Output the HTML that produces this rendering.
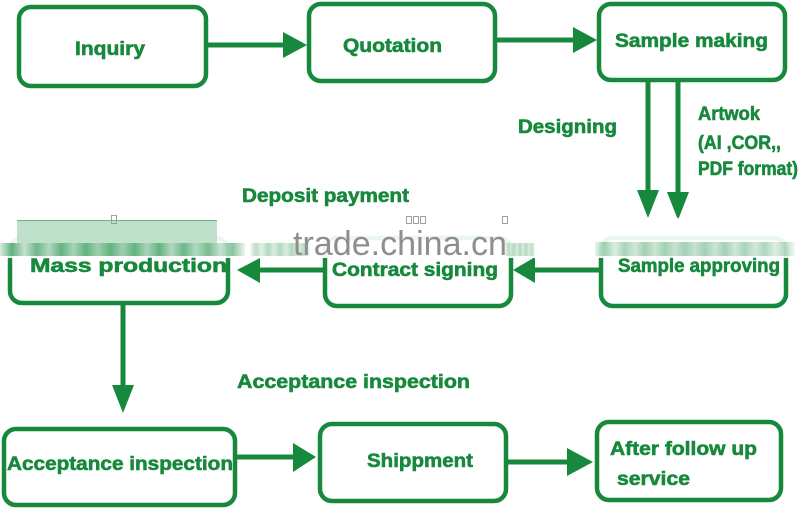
<!DOCTYPE html>
<html>
<head>
<meta charset="utf-8">
<style>
  html, body { margin: 0; padding: 0; background: #ffffff; }
  body { width: 800px; height: 509px; overflow: hidden; }
  svg { display: block; }
  .t { font-family: "Liberation Sans", Arial, sans-serif; font-weight: bold; font-size: 19px; fill: #17893d; stroke: #17893d; stroke-width: 0.6; }
</style>
</head>
<body>
<svg width="800" height="509" viewBox="0 0 800 509" xmlns="http://www.w3.org/2000/svg">
  <defs>
    <linearGradient id="streak" x1="0" y1="0" x2="1" y2="0">
      <stop offset="0" stop-color="#3d9f60" stop-opacity="0.2"/>
      <stop offset="0.05" stop-color="#3d9f60" stop-opacity="0.8"/>
      <stop offset="0.1" stop-color="#3d9f60" stop-opacity="0.3"/>
      <stop offset="0.15" stop-color="#3d9f60" stop-opacity="0.75"/>
      <stop offset="0.2" stop-color="#3d9f60" stop-opacity="0.4"/>
      <stop offset="0.25" stop-color="#3d9f60" stop-opacity="0.8"/>
      <stop offset="0.3" stop-color="#3d9f60" stop-opacity="0.45"/>
      <stop offset="0.35" stop-color="#3d9f60" stop-opacity="0.8"/>
      <stop offset="0.4" stop-color="#3d9f60" stop-opacity="0.5"/>
      <stop offset="0.45" stop-color="#3d9f60" stop-opacity="0.8"/>
      <stop offset="0.5" stop-color="#3d9f60" stop-opacity="0.5"/>
      <stop offset="0.55" stop-color="#3d9f60" stop-opacity="0.8"/>
      <stop offset="0.6" stop-color="#3d9f60" stop-opacity="0.45"/>
      <stop offset="0.65" stop-color="#3d9f60" stop-opacity="0.8"/>
      <stop offset="0.7" stop-color="#3d9f60" stop-opacity="0.4"/>
      <stop offset="0.75" stop-color="#3d9f60" stop-opacity="0.75"/>
      <stop offset="0.8" stop-color="#3d9f60" stop-opacity="0.4"/>
      <stop offset="0.85" stop-color="#3d9f60" stop-opacity="0.7"/>
      <stop offset="0.9" stop-color="#3d9f60" stop-opacity="0.3"/>
      <stop offset="0.95" stop-color="#3d9f60" stop-opacity="0.6"/>
      <stop offset="1" stop-color="#3d9f60" stop-opacity="0.1"/>
    </linearGradient>
    <linearGradient id="streakLight" x1="0" y1="0" x2="1" y2="0">
      <stop offset="0" stop-color="#3d9f60" stop-opacity="0.05"/>
      <stop offset="0.1" stop-color="#3d9f60" stop-opacity="0.35"/>
      <stop offset="0.2" stop-color="#3d9f60" stop-opacity="0.15"/>
      <stop offset="0.3" stop-color="#3d9f60" stop-opacity="0.4"/>
      <stop offset="0.4" stop-color="#3d9f60" stop-opacity="0.2"/>
      <stop offset="0.5" stop-color="#3d9f60" stop-opacity="0.4"/>
      <stop offset="0.6" stop-color="#3d9f60" stop-opacity="0.2"/>
      <stop offset="0.7" stop-color="#3d9f60" stop-opacity="0.4"/>
      <stop offset="0.8" stop-color="#3d9f60" stop-opacity="0.2"/>
      <stop offset="0.9" stop-color="#3d9f60" stop-opacity="0.35"/>
      <stop offset="1" stop-color="#3d9f60" stop-opacity="0.05"/>
    </linearGradient>
  </defs>

  <g fill="none" stroke="#17893d" stroke-width="4.5">
    <!-- top row -->
    <rect x="19" y="7" width="187" height="79" rx="12"/>
    <rect x="309" y="4" width="186" height="77" rx="12"/>
    <rect x="599" y="4" width="186" height="76" rx="12"/>
    <!-- middle row -->
    <rect x="10" y="238" width="218" height="65" rx="12"/>
    <rect x="325" y="238" width="186" height="68" rx="12"/>
    <rect x="601" y="238" width="185" height="68" rx="12"/>
    <!-- bottom row -->
    <rect x="4" y="429" width="231" height="76" rx="12"/>
    <rect x="320" y="424" width="186" height="77" rx="12"/>
    <rect x="597" y="422" width="184" height="78" rx="12"/>
  </g>

  <!-- connectors -->
  <g stroke="#17893d" stroke-width="5" fill="none">
    <line x1="208" y1="45" x2="286" y2="45"/>
    <line x1="497" y1="40" x2="576" y2="40"/>
    <line x1="648" y1="82" x2="648" y2="195"/>
    <line x1="678" y1="82" x2="678" y2="197"/>
    <line x1="599" y1="270" x2="532" y2="270"/>
    <line x1="323" y1="270" x2="257" y2="270"/>
    <line x1="123" y1="305" x2="123" y2="388"/>
    <line x1="237" y1="457" x2="296" y2="457"/>
    <line x1="508" y1="462" x2="570" y2="462"/>
  </g>
  <g fill="#17893d">
    <polygon points="283,32 307,45 283,58"/>
    <polygon points="573,27 597,40 573,53"/>
    <polygon points="637,190 659,190 648,218"/>
    <polygon points="667,192 689,192 678,220"/>
    <polygon points="535,257 513,270 535,283"/>
    <polygon points="260,258 237,270 260,283"/>
    <polygon points="112,385 134,385 123,413"/>
    <polygon points="293,443 316,457 293,472"/>
    <polygon points="567,448 593,462 567,476"/>
  </g>

  <!-- watermark band -->
  <rect x="0" y="218" width="800" height="40" fill="#ffffff" opacity="0.92"/>
  <rect x="17" y="220" width="200" height="23" fill="#bfe1cb"/>
  <line x1="17" y1="220.5" x2="217" y2="220.5" stroke="#6db488" stroke-width="1"/>
  <rect x="0" y="243" width="245" height="13" fill="url(#streak)"/>
  <rect x="250" y="243" width="60" height="13" fill="url(#streakLight)"/>
  <rect x="505" y="243" width="30" height="13" fill="url(#streakLight)"/>
  <rect x="595" y="242" width="200" height="14" fill="url(#streak)" opacity="0.6"/>
  <g fill="none" stroke="#a0a0a0" stroke-width="1">
    <rect x="111.5" y="215.5" width="5" height="8"/>
    <rect x="406.5" y="216.5" width="5" height="7"/>
    <rect x="413.5" y="216.5" width="5" height="7"/>
    <rect x="420.5" y="216.5" width="5" height="7"/>
    <rect x="502.5" y="216.5" width="5" height="7"/>
  </g>
  <text x="293" y="255" font-family="Liberation Sans, Arial, sans-serif" font-size="34" fill="#8e8e8e" textLength="214" lengthAdjust="spacingAndGlyphs">trade.china.cn</text>

  <!-- labels -->
  <text class="t" x="75" y="55" textLength="70" lengthAdjust="spacingAndGlyphs">Inquiry</text>
  <text class="t" x="343" y="52" textLength="99" lengthAdjust="spacingAndGlyphs">Quotation</text>
  <text class="t" x="615" y="47" textLength="153" lengthAdjust="spacingAndGlyphs">Sample making</text>
  <text class="t" x="518" y="133" textLength="99" lengthAdjust="spacingAndGlyphs">Designing</text>
  <text class="t" x="698" y="120" font-size="17" textLength="62" lengthAdjust="spacingAndGlyphs">Artwok</text>
  <text class="t" x="698" y="149" font-size="17" textLength="83" lengthAdjust="spacingAndGlyphs">(AI ,COR,,</text>
  <text class="t" x="698" y="175" font-size="17" textLength="100" lengthAdjust="spacingAndGlyphs">PDF format)</text>
  <text class="t" x="242" y="202" textLength="167" lengthAdjust="spacingAndGlyphs">Deposit payment</text>
  <text class="t" x="30" y="272" textLength="197" lengthAdjust="spacingAndGlyphs">Mass production</text>
  <text class="t" x="332" y="276" textLength="166" lengthAdjust="spacingAndGlyphs">Contract signing</text>
  <text class="t" x="618" y="272" textLength="162" lengthAdjust="spacingAndGlyphs">Sample approving</text>
  <text class="t" x="237" y="388" textLength="233" lengthAdjust="spacingAndGlyphs">Acceptance inspection</text>
  <text class="t" x="7" y="470" textLength="226" lengthAdjust="spacingAndGlyphs">Acceptance inspection</text>
  <text class="t" x="367" y="467" textLength="106" lengthAdjust="spacingAndGlyphs">Shippment</text>
  <text class="t" x="610" y="455" textLength="147" lengthAdjust="spacingAndGlyphs">After follow up</text>
  <text class="t" x="617" y="485" textLength="73" lengthAdjust="spacingAndGlyphs">service</text>
</svg>
</body>
</html>
